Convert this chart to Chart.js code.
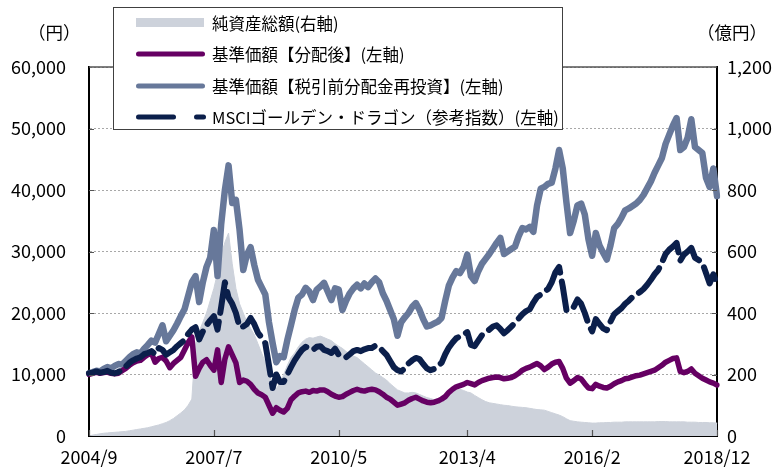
<!DOCTYPE html>
<html>
<head>
<meta charset="utf-8">
<script src="https://cdn.jsdelivr.net/npm/chart.js@4/dist/chart.umd.min.js"></script>
<style>
  body { margin: 0; background: #fff; }
  #wrap { position: relative; width: 782px; height: 471px; font-family: "Noto Sans CJK JP", sans-serif; }
  .unit { position: absolute; top: 20px; font-size: 17.5px; color: #000; line-height: 24px; }
  #legend { position: absolute; left: 113px; top: 7px; width: 450px; height: 123px; border: 1px solid #404040; background: #fff; box-sizing: border-box; }
  .row { position: absolute; left: 0; height: 30px; display: flex; align-items: center; }
  .row svg { position: absolute; left: 0; top: 0; }
  .row span { position: absolute; left: 98px; white-space: nowrap; font-size: 16.5px; color: #000; line-height: 30px; top: 0; }
</style>
</head>
<body>
<div id="wrap">
  <canvas id="myChart" width="782" height="471"></canvas>
  <div class="unit" style="left:28px;">（円）</div>
  <div class="unit" style="left:697px;">（億円）</div>
  <div id="legend"></div>
</div>
<script>
// months 2004/9 .. 2018/12
const labels = [];
for (let i = 0; i < 172; i++) {
  const mm = 8 + i;
  labels.push((2004 + Math.floor(mm / 12)) + '/' + (mm % 12 + 1));
}
const tickLabels = ['2004/9', '2007/7', '2010/5', '2013/4', '2016/2', '2018/12'];

// 純資産総額 (億円, right axis)
const navTotal = [
  0, 3, 5, 7,
  9, 10, 11, 12, 13, 14, 15, 17, 19, 21, 23, 25,
  27, 30, 33, 36, 40, 44, 50, 57, 66, 75, 85, 100,
  120, 300, 340, 370, 400, 440, 480, 530, 590, 630, 660, 560,
  480, 430, 400, 370, 350, 330, 300, 270, 240, 200, 165, 155,
  170, 200, 230, 255, 270, 290, 305, 315, 320, 318, 322, 325,
  320, 315, 310, 300, 292, 285, 275, 268, 260, 255, 245, 235,
  225, 215, 205, 198, 190, 182, 170, 160, 150, 145, 140, 140,
  142, 140, 135, 130, 125, 122, 118, 117, 120, 128, 138, 145,
  150, 152, 148, 143, 140, 132, 125, 118, 112, 108, 106, 104,
  102, 100, 99, 97, 95, 94, 93, 92, 90, 88, 86, 85,
  84, 80, 76, 72, 68, 63, 56, 50, 48, 46, 45, 44,
  43, 42, 42, 43, 43, 44, 44, 45, 45, 45, 46, 46,
  46, 46, 46, 46, 46, 46, 46, 47, 47, 47, 46, 46,
  46, 46, 46, 45, 45, 45, 44, 44, 44, 43, 43, 42
];

// 基準価額【分配後】
const navAfter = [
  10000, 10200, 10400, 10200,
  10300, 10400, 10200, 10100, 10200, 10600, 11000, 11500, 11900, 12200, 12300, 12800,
  13200, 13500, 12000, 12600, 12800, 12200, 11100, 11800, 12300, 12800, 14000, 15200,
  16100, 9700, 11000, 12000, 12400, 11500, 10700, 14000, 8700, 12500, 14500, 13200,
  11900, 8700, 9100, 8900, 8400, 7600, 7000, 6700, 6300, 5000, 3700, 4600,
  4200, 3900, 4500, 5900, 6500, 7000, 7200, 7300, 7100, 7400, 7300, 7500,
  7500, 7200, 6800, 6500, 6300, 6400, 6800, 7100, 7400, 7600, 7400, 7300,
  7500, 7600, 7500, 7200, 6800, 6300, 6000, 5500, 5000, 5200, 5400, 5800,
  6100, 6300, 6000, 5700, 5500, 5400, 5500, 5700, 6000, 6400, 7100, 7600,
  8000, 8200, 8400, 8700, 8500, 8300, 8700, 9000, 9200, 9400, 9500, 9600,
  9500, 9300, 9400, 9500, 9800, 10200, 10700, 11000, 11200, 11500, 11800, 11400,
  10800, 11200, 11700, 12000, 12100, 11000, 9400, 8600, 9000, 9500, 9300, 8500,
  7800, 7700, 8400, 8100, 7900, 7800, 8100, 8500, 8800, 9000, 9300, 9400,
  9600, 9800, 9900, 10100, 10300, 10500, 10700, 11100, 11500, 12000, 12300, 12600,
  12700, 10500, 10300, 10500, 10900, 10200, 9800, 9400, 9100, 8800, 8600, 8300
];

// 基準価額【税引前分配金再投資】
const navReinvest = [
  10200, 10400, 10600, 10500,
  10900, 11200, 11000, 11400, 11700, 11600, 12200, 12800, 13300, 13600, 13400, 14200,
  14800, 15500, 15200, 16600, 18000, 15400, 16300, 17200, 18300, 19500, 20600, 22800,
  25000, 26000, 21800, 25000, 27500, 29000, 33500, 26000, 34500, 40000, 44000, 37900,
  38400, 33500, 27000, 29500, 30700, 27800, 25400, 24200, 23000, 18500, 15100, 12000,
  13000, 12800, 15600, 18000, 20500, 22500, 23000, 24100, 23500, 22100, 23800, 24300,
  24900, 23500, 22100, 24000, 23800, 20500, 22000, 23200, 24000, 24600, 24000, 24800,
  24200, 25000, 25600, 25000, 23200, 22000, 20500, 19000, 16300, 18500, 19300, 20000,
  21000, 21600, 20500, 19000, 17800, 18000, 18300, 18600, 19200, 22000, 24500, 25800,
  26800, 26500, 27500, 29500, 26000, 25200, 26800, 28000, 28800, 29600, 30500, 31400,
  32200, 29600, 30000, 30400, 30800, 32500, 33800, 33600, 34000, 33200, 37500, 40200,
  40500, 41000, 41200, 43500, 46500, 43500, 38000, 33000, 35000, 37500, 37800, 36000,
  32000, 29300, 33000, 31000, 29800, 28700, 31000, 33800, 34500, 35500, 36700, 37000,
  37400, 37800, 38400, 39200, 40300, 41400, 42800, 44000, 45200, 47500, 49000, 50500,
  51700, 46500, 47000, 48500, 51500, 47000, 46500, 46000, 42000, 40500, 43500, 39000
];

// MSCIゴールデン・ドラゴン（参考指数）
const msci = [
  10200, 10300, 10500, 10300,
  10400, 10600, 10300, 10200, 10400, 10800, 11300, 11900, 12300, 12600, 12800, 13300,
  13500, 13800, 13300, 14300, 14000, 13200, 13600, 14000, 14600, 15100, 15600, 16600,
  17300, 17700, 15700, 17000, 18000, 18800, 19500, 17300, 21000, 25000, 22500, 21500,
  20000, 17700, 17800, 18200, 19200, 18200, 16800, 16000, 15100, 11500, 7800, 10000,
  8800, 8800, 10000, 11200, 12300, 13200, 14000, 14500, 14300, 14000, 14500, 14600,
  14000, 13800, 13500, 14200, 13200, 12900, 12800, 13300, 13800, 14000, 13800, 14100,
  14300, 14300, 14700, 14500, 13800, 13200, 12200, 11200, 10700, 10500, 11000, 11800,
  12300, 12700, 12500, 11700, 11000, 10700, 10900, 11400, 11900, 13300, 14400, 15200,
  15900, 16200, 16500, 16900, 14800, 14600, 15500, 16400, 16800, 17300, 17800, 18000,
  17400, 16700, 17200, 17800, 18400, 19100, 19800, 20300, 20600, 21700, 22600, 23000,
  23500, 23900, 25000, 26600, 27500, 24300, 20500, null, 21000, 22200, 21500, 20000,
  18200, 17000, 19000, 18200, 17500, 17200, 18600, 19800, 20300, 20800, 21500, 22000,
  22600, 23000, 23400, 23900, 24600, 25400, 26300, 27000, 28200, 29600, 30300, 30800,
  31400, 28500, 29500, 30000, 30600, 29000, 28600, 28200, 26500, 24800, 26300, 24600
];

const colGray = '#cdd2db', colPurple = '#660063', colBlue = '#67789a', colNavy = '#0b1f4b';

// legend (HTML, sits over the plot like the original box)
const legendRows = [
  { text: '純資産総額(右軸)', kind: 'rect', color: colGray },
  { text: '基準価額【分配後】(左軸)', kind: 'line', color: colPurple },
  { text: '基準価額【税引前分配金再投資】(左軸)', kind: 'line', color: colBlue },
  { text: 'MSCIゴールデン・ドラゴン（参考指数）(左軸)', kind: 'dash', color: colNavy }
];
const legendEl = document.getElementById('legend');
legendRows.forEach((r, i) => {
  const row = document.createElement('div');
  row.className = 'row';
  row.style.top = (i * 31.3) + 'px';
  let svg = '<svg width="100" height="30">';
  if (r.kind === 'rect') svg += '<rect x="22" y="10" width="68" height="9" fill="' + r.color + '"/>';
  if (r.kind === 'line') svg += '<line x1="24.5" y1="15" x2="88.5" y2="15" stroke="' + r.color + '" stroke-width="5" stroke-linecap="round"/>';
  if (r.kind === 'dash') svg += '<line x1="24.5" y1="15" x2="59.5" y2="15" stroke="' + r.color + '" stroke-width="5" stroke-linecap="round"/>' +
    '<line x1="82.5" y1="15" x2="89.5" y2="15" stroke="' + r.color + '" stroke-width="5" stroke-linecap="round"/>';
  svg += '</svg>';
  row.innerHTML = svg + '<span>' + r.text + '</span>';
  legendEl.appendChild(row);
});

const frame = {
  id: 'frame',
  afterDraw: (chart) => {
    const ctx = chart.ctx;
    const {left, right, top, bottom} = chart.chartArea;
    const x = chart.scales.x, y = chart.scales.y, y2 = chart.scales.y2;
    ctx.save();
    ctx.strokeStyle = '#555';
    ctx.lineWidth = 1.5;
    ctx.beginPath();
    ctx.moveTo(left, top); ctx.lineTo(right, top);
    ctx.stroke();
    ctx.lineWidth = 1.2;
    ctx.beginPath();
    tickLabels.forEach(l => {
      const px = Math.round(x.getPixelForValue(labels.indexOf(l))) + 0.5;
      ctx.moveTo(px, bottom); ctx.lineTo(px, bottom - 6);
    });
    for (let v = 10000; v < 60000; v += 10000) {
      const py = Math.round(y.getPixelForValue(v)) + 0.5;
      ctx.moveTo(left, py); ctx.lineTo(left + 5, py);
    }
    for (let v = 200; v < 1200; v += 200) {
      const py = Math.round(y2.getPixelForValue(v)) + 0.5;
      ctx.moveTo(right, py); ctx.lineTo(right - 5, py);
    }
    ctx.stroke();
    ctx.restore();
  }
};

Chart.defaults.font.family = '"Noto Sans CJK JP", sans-serif';
Chart.defaults.font.size = 18;
Chart.defaults.color = '#000';

const lineBase = { pointRadius: 0, tension: 0, borderJoinStyle: 'round', borderCapStyle: 'round', spanGaps: false };

new Chart(document.getElementById('myChart'), {
  type: 'line',
  data: {
    labels: labels,
    datasets: [
      Object.assign({ label: 'MSCI', data: msci, borderColor: colNavy, borderWidth: 6, borderDash: [32, 9], yAxisID: 'y', order: 1 }, lineBase),
      Object.assign({ label: '分配後', data: navAfter, borderColor: colPurple, borderWidth: 5.5, yAxisID: 'y', order: 2 }, lineBase),
      Object.assign({ label: '再投資', data: navReinvest, borderColor: colBlue, borderWidth: 6.5, yAxisID: 'y', order: 3 }, lineBase),
      Object.assign({ label: '純資産総額', data: navTotal, borderColor: colGray, backgroundColor: colGray, borderWidth: 1, fill: 'origin', yAxisID: 'y2', order: 4 }, lineBase)
    ]
  },
  plugins: [frame],
  options: {
    responsive: false,
    animation: false,
    devicePixelRatio: 1,
    layout: { padding: { top: 67, left: 0, right: 0, bottom: 0 } },
    plugins: { legend: { display: false }, tooltip: { enabled: false } },
    scales: {
      x: {
        offset: false,
        grid: { display: false, drawTicks: false },
        border: { display: true, color: '#000', width: 2 },
        ticks: {
          autoSkip: false, maxRotation: 0, padding: 10,
          callback: function(v) { const l = labels[v]; return tickLabels.includes(l) ? l : ''; }
        },
        afterFit: s => { s.height = 35; }
      },
      y: {
        position: 'left', min: 0, max: 60000,
        grid: { color: '#a8a8a8', lineWidth: 1, drawTicks: false },
        border: { display: true, color: '#000', width: 2, dash: [2, 2] },
        ticks: { stepSize: 10000, padding: 23, callback: v => v.toLocaleString('en-US') },
        afterFit: s => { s.width = 89; }
      },
      y2: {
        position: 'right', min: 0, max: 1200,
        grid: { display: false, drawTicks: false },
        border: { display: true, color: '#000', width: 2 },
        ticks: { stepSize: 200, padding: 10, callback: v => v.toLocaleString('en-US') },
        afterFit: s => { s.width = 65; }
      }
    }
  }
});
</script>
</body>
</html>
